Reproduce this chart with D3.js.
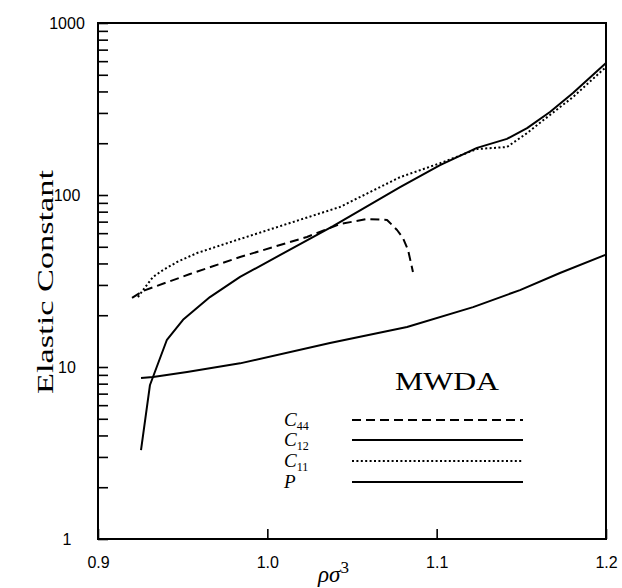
<!DOCTYPE html>
<html>
<head>
<meta charset="utf-8">
<script src="https://cdn.jsdelivr.net/npm/d3@7"></script>
<style>
  body { margin: 0; background: #fff; }
  svg { display: block; }
  .tick text { font-family: "Liberation Sans", Arial, sans-serif; font-size: 16px; fill: #000; }
  .serif { font-family: "Liberation Serif", "DejaVu Serif", serif; fill: #000; }
</style>
</head>
<body>
<div id="chart-area"></div>
<script>
// density (rho sigma^3) and constants per series
var c44Rho = [0.9201, 0.9266, 0.9543, 0.9839, 1.0234, 1.0429, 1.0589, 1.0707, 1.0766, 1.0801, 1.0831, 1.0860];
var c44Val = [25.2, 27.7, 34.7, 43.6, 57.0, 67.8, 72.5, 71.6, 62.6, 56.2, 47.9, 35.7];

var c12Rho = [0.9254, 0.9307, 0.9407, 0.9502, 0.9661, 0.9839, 1.0388, 1.0784, 1.1020, 1.1238, 1.1415, 1.1534, 1.1669, 1.1805, 1.2000];
var c12Val = [3.29, 7.86, 14.4, 18.8, 25.5, 33.4, 66.0, 111, 149, 188, 212, 245, 304, 392, 585];

var c11Rho = [0.9236, 0.9266, 0.9325, 0.9384, 0.9467, 0.9585, 0.9839, 1.0429, 1.0784, 1.1020, 1.1238, 1.1415, 1.1534, 1.1669, 1.1805, 1.2000];
var c11Val = [25.5, 28.0, 33.4, 36.6, 40.8, 46.0, 55.5, 85.2, 127, 153, 185, 190, 229, 292, 371, 555];

var pRho = [0.9254, 0.9325, 0.9526, 0.9839, 1.0370, 1.0825, 1.1215, 1.1492, 1.1728, 1.2000];
var pVal = [8.63, 8.75, 9.35, 10.5, 13.8, 17.1, 22.3, 28.0, 35.2, 45.0];

var xTicks = [0.9, 1.0, 1.1, 1.2];
var yMajor = [1, 10, 100, 1000];

var margin = {top: 23, left: 98, bottom: 49, right: 16};
var width = 622 - margin.left - margin.right;
var height = 588 - margin.top - margin.bottom;

var svg = d3.select("#chart-area")
  .append("svg")
    .attr("width", 622)
    .attr("height", 588);

var g = svg.append("g")
  .attr("transform", "translate(" + margin.left + "," + margin.top + ")");

var x = d3.scaleLinear().domain([0.9, 1.2]).range([0, width]);
var y = d3.scaleLog().domain([1, 1000]).range([height, 0]);

// log minor ticks
var yTicks = [];
[1, 10, 100].forEach(function(d){
  for (var k = 1; k < 10; k++) yTicks.push(d * k);
});
yTicks.push(1000);

var yAxis = g.append("g")
  .call(d3.axisLeft(y).tickValues(yTicks).tickSize(-10).tickPadding(0)
    .tickFormat(function(d){ return yMajor.indexOf(d) >= 0 ? d : ""; }));
yAxis.select(".domain").remove();
yAxis.selectAll(".tick line").attr("stroke-width", 1.6);
yAxis.selectAll(".tick text").attr("text-anchor", "middle").attr("x", -31);

var xAxis = g.append("g")
  .attr("transform", "translate(0," + height + ")")
  .call(d3.axisBottom(x).tickValues(xTicks).tickSize(-10).tickPadding(18)
    .tickFormat(d3.format(".1f")));
xAxis.select(".domain").remove();
xAxis.selectAll(".tick line").attr("stroke-width", 1.6);

// frame
g.append("rect")
  .attr("width", width)
  .attr("height", height)
  .attr("fill", "none")
  .attr("stroke", "#000")
  .attr("stroke-width", 2);

var line = d3.line()
  .x(function(d){ return x(d[0]); })
  .y(function(d){ return y(d[1]); });

var series = [
  {name: "44", rho: c44Rho, val: c44Val, dash: "9,5"},
  {name: "12", rho: c12Rho, val: c12Val, dash: null},
  {name: "11", rho: c11Rho, val: c11Val, dash: "2,2.4"},
  {name: "P",  rho: pRho,   val: pVal,   dash: null}
];

series.forEach(function(s){
  g.append("path")
    .datum(d3.zip(s.rho, s.val))
    .attr("fill", "none")
    .attr("stroke", "#000")
    .attr("stroke-width", 2)
    .attr("stroke-linejoin", "round")
    .attr("stroke-dasharray", s.dash)
    .attr("d", line);
});

// legend
var legend = g.append("g")
  .attr("transform", "translate(" + (284 - margin.left) + "," + (420 - margin.top) + ")");

var rowY = [0, 20, 41, 62];

series.forEach(function(s, i){
  var row = legend.append("g").attr("transform", "translate(0," + rowY[i] + ")");
  row.append("line")
    .attr("x1", 68).attr("x2", 239)
    .attr("stroke", "#000")
    .attr("stroke-width", 2)
    .attr("stroke-dasharray", s.dash);
  var t = row.append("text").attr("class", "serif").attr("y", 6);
  if (s.name === "P") {
    t.append("tspan").attr("font-style", "italic").attr("font-size", "19px").text("P");
  } else {
    t.append("tspan").attr("font-style", "italic").attr("font-size", "19px").text("C");
    t.append("tspan").attr("font-size", "12px").attr("dy", 4).text(s.name);
  }
});

g.append("text")
  .attr("class", "serif")
  .attr("x", 297)
  .attr("y", 390 - margin.top)
  .attr("font-size", "26px")
  .attr("textLength", 104)
  .attr("lengthAdjust", "spacingAndGlyphs")
  .text("MWDA");

// axis labels
svg.append("text")
  .attr("class", "serif")
  .attr("transform", "translate(53,282) rotate(-90)")
  .attr("text-anchor", "middle")
  .attr("font-size", "23px")
  .attr("textLength", 224)
  .attr("lengthAdjust", "spacingAndGlyphs")
  .text("Elastic Constant");

var xl = svg.append("text")
  .attr("class", "serif")
  .attr("x", 318)
  .attr("y", 582)
  .attr("font-size", "23px");
xl.append("tspan").attr("font-style", "italic").text("ρσ");
xl.append("tspan").attr("font-size", "17px").attr("dy", -9).text("3");
</script>
</body>
</html>
